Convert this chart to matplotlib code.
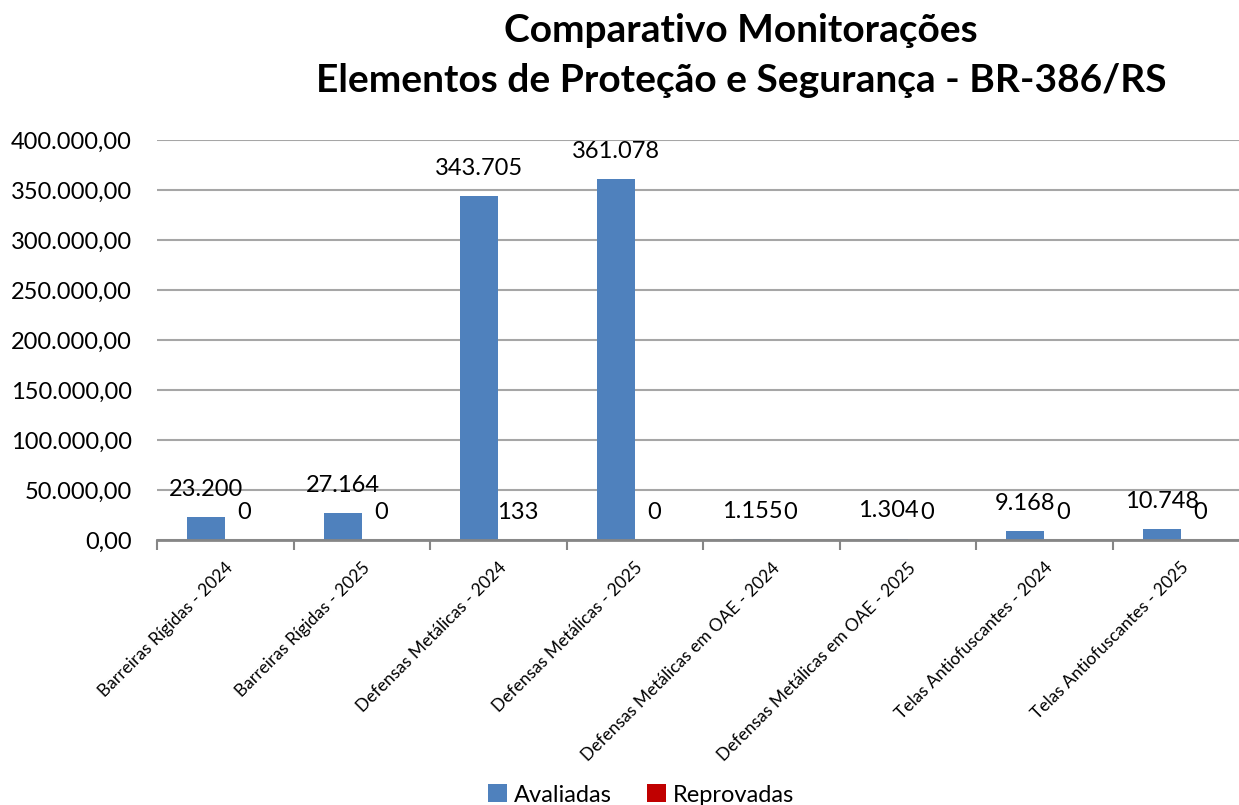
import numpy as np
import matplotlib.pyplot as plt
from matplotlib.ticker import FuncFormatter, FixedLocator

plt.rcParams['font.family'] = ['Lato', 'DejaVu Sans']

categorias = ['Barreiras Rígidas - 2024', 'Barreiras Rígidas - 2025',
              'Defensas Metálicas - 2024', 'Defensas Metálicas - 2025',
              'Defensas Metálicas em OAE - 2024', 'Defensas Metálicas em OAE - 2025',
              'Telas Antiofuscantes - 2024', 'Telas Antiofuscantes - 2025']
avaliadas = [23200, 27164, 343705, 361078, 1155, 1304, 9168, 10748]
reprovadas = [0, 0, 133, 0, 0, 0, 0, 0]


def br_num(v, decimais=0):
    s = f"{v:,.{decimais}f}"
    return s.replace(',', 'X').replace('.', ',').replace('X', '.')


fig = plt.figure(figsize=(12.39, 8.05), dpi=100)
# plot area runs a bit past the right edge, as in the original
ax = fig.add_axes([157 / 1239, 1 - 540 / 805, 1092 / 1239, 400 / 805])

x = np.arange(len(categorias))
w = 0.28
b1 = ax.bar(x - w / 2, avaliadas, w, color='#4F81BD', label='Avaliadas', zorder=3)
b2 = ax.bar(x + w / 2, reprovadas, w, color='#C00000', label='Reprovadas', zorder=3)

for bars, vals in ((b1, avaliadas), (b2, reprovadas)):
    for r, v in zip(bars, vals):
        ax.annotate(br_num(v), (r.get_x() + r.get_width() / 2, v),
                    xytext=(0, 20), textcoords='offset points',
                    ha='center', va='center', fontsize=17, color='black', zorder=4)

ax.set_xlim(-0.5, len(categorias) - 0.5)
ax.set_ylim(0, 400000)
ax.set_yticks(np.arange(0, 400001, 50000))
ax.yaxis.set_major_formatter(FuncFormatter(lambda v, p: br_num(v, 2)))
ax.tick_params(axis='y', length=0, pad=18, labelsize=17)
ax.grid(axis='y', color='#A6A6A6', linewidth=1.5, zorder=0)

ax.set_xticks(x)
ax.set_xticklabels(categorias, rotation=45, ha='right', rotation_mode='anchor', fontsize=12.5)
ax.tick_params(axis='x', length=0, pad=14)
ax.xaxis.set_minor_locator(FixedLocator(np.arange(-0.5, len(categorias), 1)))
ax.tick_params(axis='x', which='minor', length=7, width=1.5, color='#868686', direction='out')

for s in ('top', 'right', 'left'):
    ax.spines[s].set_visible(False)
ax.spines['bottom'].set_color('#868686')
ax.spines['bottom'].set_linewidth(2)
ax.spines['bottom'].set_zorder(5)

fig.text(741 / 1239, 1 - 30 / 805, 'Comparativo Monitorações', ha='center', va='center',
         fontsize=28, fontweight='bold')
fig.text(741 / 1239, 1 - 80 / 805, 'Elementos de Proteção e Segurança - BR-386/RS', ha='center',
         va='center', fontsize=28, fontweight='bold')

fig.legend(handles=[b1, b2], loc='center', bbox_to_anchor=(641 / 1239, 1 - 795 / 805),
           ncol=2, frameon=False, fontsize=17, handlelength=0.8, handleheight=0.8,
           handletextpad=0.3, columnspacing=1.5)

fig.savefig('out.png', dpi=100)
